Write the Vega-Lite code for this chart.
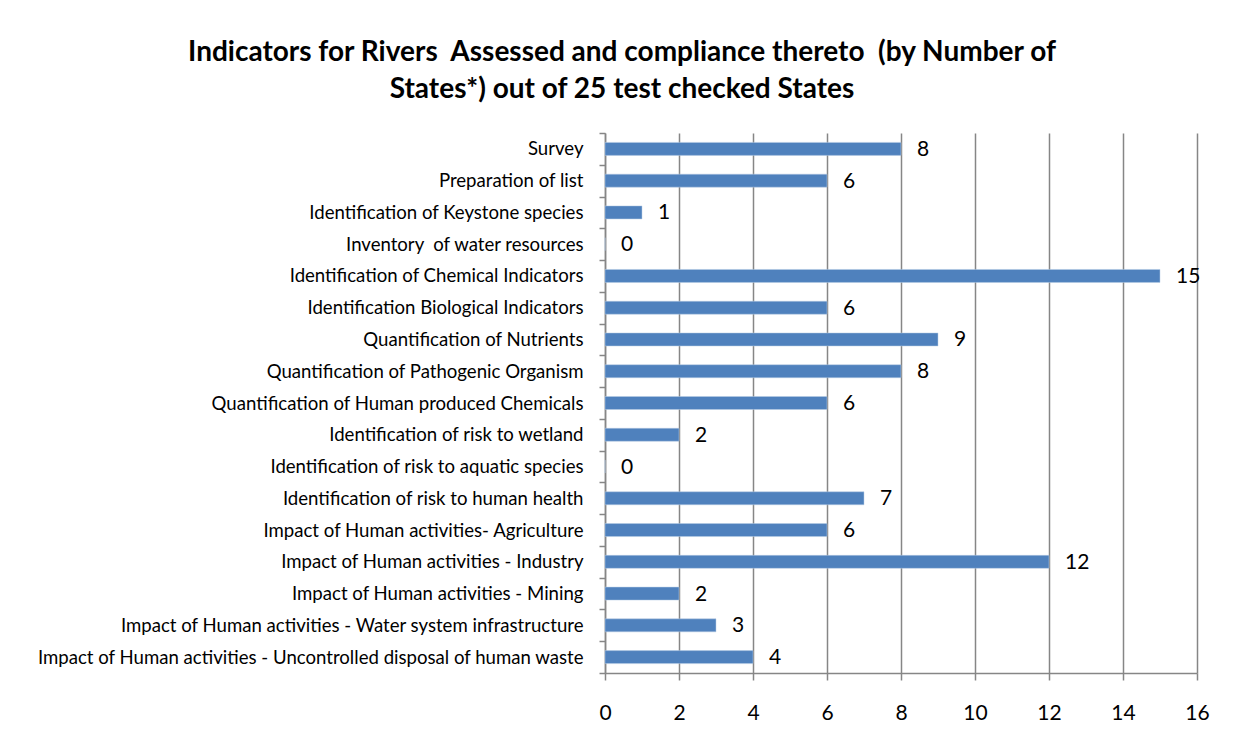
{
  "$schema": "https://vega.github.io/schema/vega-lite/v6.json",
  "autosize": {"type": "none"},
  "width": 592,
  "height": 540,
  "padding": {"left": 605, "top": 133, "right": 36, "bottom": 75},
  "background": "white",
  "title": {
    "text": ["Indicators for Rivers \u00a0Assessed and compliance thereto \u00a0(by Number of", "States*) out of 25 test checked States"],
    "anchor": "middle",
    "frame": "group",
    "dx": -279,
    "font": "Lato",
    "fontSize": 28,
    "fontWeight": "bold",
    "color": "black",
    "lineHeight": 37,
    "offset": 20
  },
  "data": {
    "values": [
      {"indicator": "Survey", "states": 8},
      {"indicator": "Preparation of list", "states": 6},
      {"indicator": "Identification of Keystone species", "states": 1},
      {"indicator": "Inventory \u00a0of water resources", "states": 0},
      {"indicator": "Identification of Chemical Indicators", "states": 15},
      {"indicator": "Identification Biological Indicators", "states": 6},
      {"indicator": "Quantification of Nutrients", "states": 9},
      {"indicator": "Quantification of Pathogenic Organism", "states": 8},
      {"indicator": "Quantification of Human produced Chemicals", "states": 6},
      {"indicator": "Identification of risk to wetland", "states": 2},
      {"indicator": "Identification of risk to aquatic species", "states": 0},
      {"indicator": "Identification of risk to human health", "states": 7},
      {"indicator": "Impact of Human activities- Agriculture", "states": 6},
      {"indicator": "Impact of Human activities - Industry", "states": 12},
      {"indicator": "Impact of Human activities - Mining", "states": 2},
      {"indicator": "Impact of Human activities - Water system infrastructure", "states": 3},
      {"indicator": "Impact of Human activities - Uncontrolled disposal of human waste", "states": 4}
    ]
  },
  "encoding": {
    "y": {
      "field": "indicator",
      "type": "nominal",
      "sort": null,
      "scale": {"paddingInner": 0, "paddingOuter": 0},
      "axis": {
        "title": null,
        "tickBand": "extent",
        "domainColor": "#868686",
        "domainWidth": 1.5,
        "tickColor": "#868686",
        "tickWidth": 1.5,
        "tickSize": 6,
        "labelPadding": 16,
        "labelFont": "Lato",
        "labelFontSize": 18.6,
        "labelColor": "black",
        "labelLimit": 700,
        "grid": false
      }
    },
    "x": {
      "field": "states",
      "type": "quantitative",
      "scale": {"domain": [0, 16], "nice": false},
      "axis": {
        "title": null,
        "values": [0, 2, 4, 6, 8, 10, 12, 14, 16],
        "grid": true,
        "gridColor": "#868686",
        "gridWidth": 1.5,
        "domainColor": "#868686",
        "domainWidth": 1.5,
        "tickColor": "#868686",
        "tickWidth": 1.5,
        "tickSize": 7,
        "labelPadding": 22,
        "labelFlush": false,
        "labelFont": "Lato",
        "labelFontSize": 21,
        "labelColor": "black"
      }
    }
  },
  "layer": [
    {
      "mark": {"type": "bar", "size": 13, "color": "#4F81BD", "stroke": "#B9CDE5", "strokeWidth": 0.5}
    },
    {
      "mark": {"type": "text", "align": "left", "baseline": "middle", "dx": 16, "dy": 1, "font": "Lato", "fontSize": 21, "color": "black"},
      "encoding": {"text": {"field": "states", "type": "quantitative"}}
    }
  ],
  "config": {"view": {"stroke": null}}
}
